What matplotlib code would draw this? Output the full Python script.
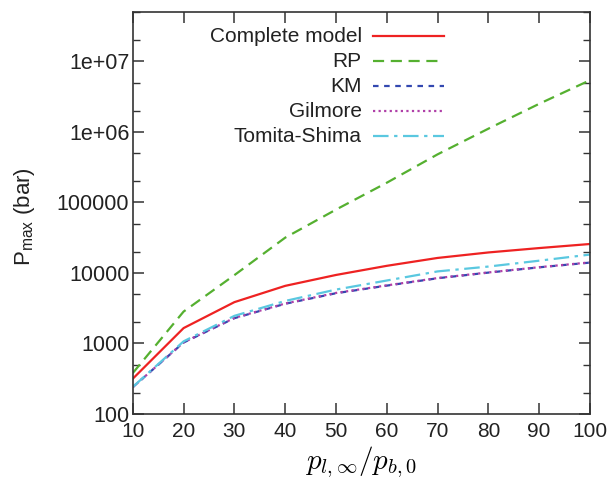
import matplotlib
matplotlib.use("Agg")
import matplotlib.pyplot as plt
from matplotlib.ticker import FixedLocator, FixedFormatter, LogLocator, NullFormatter

plt.rcParams['font.family'] = ['Liberation Sans', 'DejaVu Sans']
plt.rcParams['mathtext.fontset'] = 'cm'
plt.rcParams['mathtext.rm'] = 'Liberation Sans'

x = [10, 20, 30, 40, 50, 60, 70, 80, 90, 100]
complete = [316, 1650, 3850, 6550, 9350, 12600, 16300, 19500, 22500, 25700]
rp = [380, 2830, 9300, 31600, 79000, 190000, 480000, 1.11e6, 2.5e6, 5.4e6]
km = [240, 1030, 2280, 3650, 5150, 6600, 8400, 10100, 12000, 14000]
gilmore = [240, 1035, 2300, 3680, 5200, 6650, 8450, 10150, 12050, 14100]
tomita = [242, 1070, 2460, 4000, 5800, 7800, 10500, 12300, 14900, 18200]

labels = ['Complete model', 'RP', 'KM', 'Gilmore', 'Tomita-Shima']
colors = ['#ee2222', '#55b030', '#3348b0', '#b040a8', '#5ac8e0']
styles = ['-', (0, (5, 3)), (0, (2.5, 2.5)), (0, (1, 1.5)), (0, (7, 2.5, 1.5, 2.5))]

yticks = [100, 1000, 10000, 100000, 1e6, 1e7]
ytick_labels = ['100', '1000', '10000', '100000', '1e+06', '1e+07']
xticks = [10, 20, 30, 40, 50, 60, 70, 80, 90, 100]

fig = plt.figure(figsize=(6.12, 4.83), dpi=100)
ax = fig.add_axes([0.217, 0.143, 0.747, 0.832])

series = [complete, rp, km, gilmore, tomita]
for ys, lab, c, st in zip(series, labels, colors, styles):
    ax.plot(x, ys, color=c, lw=1.6, ls=st, label=lab)

ax.set_yscale('log')
ax.set_ylim(100, 5e7)
ax.set_xlim(10, 100)
ax.yaxis.set_major_locator(FixedLocator(yticks))
ax.yaxis.set_major_formatter(FixedFormatter(ytick_labels))
ax.yaxis.set_minor_locator(LogLocator(base=10, subs=(2.0, 5.0)))
ax.yaxis.set_minor_formatter(NullFormatter())
ax.set_xticks(xticks)

for s in ax.spines.values():
    s.set_color('#333333')
    s.set_linewidth(1.2)
ax.tick_params(which='both', direction='in', top=True, right=True, color='#333333',
               labelsize=15, labelcolor='#222222')
ax.tick_params(which='major', length=8, width=1.1)
ax.tick_params(which='minor', length=5, width=1.0)
ax.tick_params(axis='x', pad=6)
ax.tick_params(axis='y', pad=2.5, labelsize=15.5)

ax.set_xlabel(r'$p_{l,\infty}/p_{b,0}$', fontsize=21, labelpad=2)
yl = ax.set_ylabel(r'P$_{\mathrm{max}}$ (bar)', fontsize=16, color='#222222')
yl.set_math_fontfamily('custom')
ax.yaxis.set_label_coords(-0.21, 0.49)

# gnuplot-style legend: right-aligned labels, line sample to the right
ty0, dy = 0.940, 0.0622
for i, (lab, c, st) in enumerate(zip(labels, colors, styles)):
    yy = ty0 - i * dy
    ax.text(0.501, yy, lab, transform=ax.transAxes, ha='right', va='center',
            fontsize=15, color='#222222')
    ax.plot([0.525, 0.681], [yy, yy], transform=ax.transAxes, color=c, lw=1.6, ls=st,
            clip_on=False)

fig.savefig('out.png', dpi=100)
